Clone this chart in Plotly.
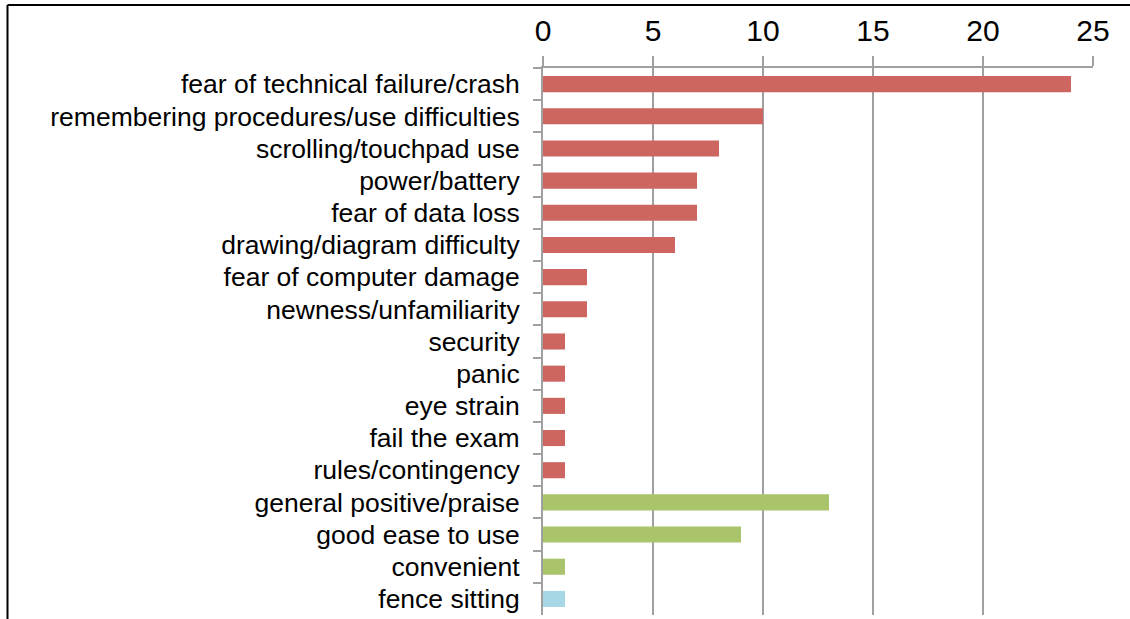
import plotly.graph_objects as go

categories = [
    "fear of technical failure/crash",
    "remembering procedures/use difficulties",
    "scrolling/touchpad use",
    "power/battery",
    "fear of data loss",
    "drawing/diagram difficulty",
    "fear of computer damage",
    "newness/unfamiliarity",
    "security",
    "panic",
    "eye strain",
    "fail the exam",
    "rules/contingency",
    "general positive/praise",
    "good ease to use",
    "convenient",
    "fence sitting",
]
values = [24, 10, 8, 7, 7, 6, 2, 2, 1, 1, 1, 1, 1, 13, 9, 1, 1]
groups = ["neg"] * 13 + ["pos"] * 3 + ["neutral"]
group_colors = {"neg": "#CD6660", "pos": "#A9C46B", "neutral": "#A5D7E5"}
x_ticks = [0, 5, 10, 15, 20, 25]

W, H = 1130, 619
L, R, T, B = 543, 37, 68, 4
pw, ph = W - L - R, H - T - B

fig = go.Figure(go.Bar(
    y=categories, x=values, orientation="h",
    marker=dict(color=[group_colors[g] for g in groups], line=dict(width=0)),
    showlegend=False,
))

def px_to_paper_x(px):
    return (px - L) / pw

def px_to_paper_y(py):
    return 1 - (py - T) / ph

bx = px_to_paper_x(7.5)
by = px_to_paper_y(5)
fig.add_shape(type="line", xref="paper", yref="paper", x0=bx, x1=bx,
              y0=px_to_paper_y(625), y1=by, line=dict(color="black", width=2))
fig.add_shape(type="line", xref="paper", yref="paper", x0=bx, x1=px_to_paper_x(1135),
              y0=by, y1=by, line=dict(color="black", width=2))

fig.update_layout(
    width=W, height=H,
    margin=dict(l=L, r=R, t=T, b=B, pad=0),
    paper_bgcolor="white", plot_bgcolor="white",
    bargap=0.5,
    font=dict(family="Liberation Sans, Arial, sans-serif", color="black"),
    xaxis=dict(
        side="top", range=[0, 25], tickvals=x_ticks,
        showgrid=True, gridcolor="#A0A0A0", gridwidth=2,
        showline=True, linecolor="#A0A0A0", linewidth=2,
        ticks="outside", ticklen=10, tickcolor="#A0A0A0", tickwidth=2,
        tickfont=dict(size=30), zeroline=False, ticklabelstandoff=3,
    ),
    yaxis=dict(
        autorange="reversed", type="category", tickson="boundaries",
        showgrid=False, showline=True, linecolor="#A0A0A0", linewidth=2,
        ticks="outside", ticklen=8, tickcolor="#A0A0A0", tickwidth=2,
        tickfont=dict(size=26.5), ticklabelstandoff=16,
    ),
)

fig.write_html(
    "out.html",
    config={"displayModeBar": False},
    post_script="document.body.style.margin='0';document.body.style.padding='0';document.body.style.overflow='hidden';",
)
